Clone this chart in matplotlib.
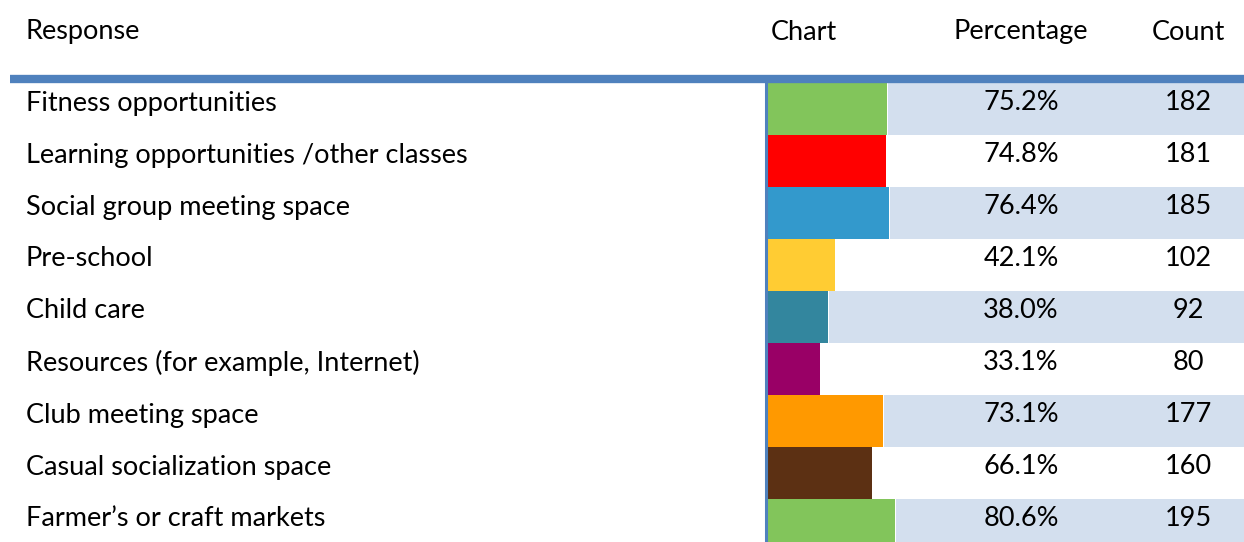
import matplotlib
matplotlib.use("Agg")
import matplotlib.pyplot as plt

responses = [
    "Fitness opportunities",
    "Learning opportunities /other classes",
    "Social group meeting space",
    "Pre-school",
    "Child care",
    "Resources (for example, Internet)",
    "Club meeting space",
    "Casual socialization space",
    "Farmer\u2019s or craft markets",
]
percentages = [75.2, 74.8, 76.4, 42.1, 38.0, 33.1, 73.1, 66.1, 80.6]
counts = [182, 181, 185, 102, 92, 80, 177, 160, 195]
bar_colors = ["#82C55B", "#FF0000", "#3399CC", "#FFCC33", "#33869E",
              "#990066", "#FF9900", "#5C3013", "#82C55B"]
headers = ["Response", "Chart", "Percentage", "Count"]

W, H = 1244, 542
FONT = "Lato"
FS = 19.5
fig = plt.figure(figsize=(W / 100, H / 100), dpi=100)

top = 83
row_h = 52
n = len(responses)
chart_left = 768
px_per_pct = 1.58

# chart axes: x in percent, y in row index
ax_bottom_px = top + n * row_h
ax = fig.add_axes([chart_left / W, (H - ax_bottom_px) / H,
                   (W - chart_left) / W, n * row_h / H])
xmax = (W - chart_left) / px_per_pct
ax.set_xlim(0, xmax)
ax.set_ylim(n - 0.5, -0.5)
ax.axis("off")

for i, (p, c) in enumerate(zip(percentages, bar_colors)):
    if i % 2 == 0:
        ax.barh(i, xmax - p - 0.6, left=p + 0.6, height=1.0,
                color="#D3DFEE", linewidth=0)
    ax.barh(i, p, left=0, height=1.0, color=c, linewidth=0)

# overlay axes in pixel coordinates for text and rules
bg = fig.add_axes([0, 0, 1, 1])
bg.set_xlim(0, W)
bg.set_ylim(H, 0)
bg.axis("off")
bg.patch.set_alpha(0)

bg.plot([10, W], [79, 79], color="#4F81BD", lw=6, solid_capstyle="butt")
bg.plot([766, 766], [82, H], color="#4F81BD", lw=2.2, solid_capstyle="butt")

hy = 32
bg.text(26, hy, headers[0], fontsize=FS, family=FONT, ha="left", va="center")
bg.text(771, hy, headers[1], fontsize=FS, family=FONT, ha="left", va="center")
bg.text(1021, hy, headers[2], fontsize=FS, family=FONT, ha="center", va="center")
bg.text(1188, hy, headers[3], fontsize=FS, family=FONT, ha="center", va="center")

for i in range(n):
    y = top + (i + 0.5) * row_h - 6
    bg.text(26, y, responses[i], fontsize=FS, family=FONT, ha="left", va="center")
    bg.text(1021, y, f"{percentages[i]:.1f}%", fontsize=FS, family=FONT,
            ha="center", va="center")
    bg.text(1188, y, f"{counts[i]}", fontsize=FS, family=FONT,
            ha="center", va="center")

fig.savefig("out.png", dpi=100)
